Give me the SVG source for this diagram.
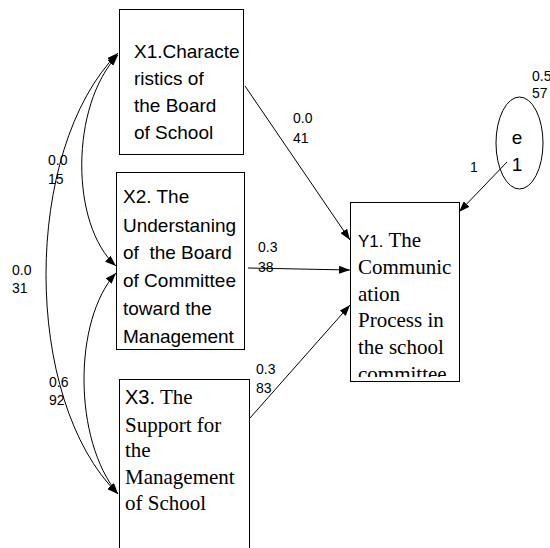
<svg xmlns="http://www.w3.org/2000/svg" width="550" height="548" viewBox="0 0 550 548">
<style>
.box{fill:#fff;stroke:#000;stroke-width:1}
.sans{font-family:"Liberation Sans",Arial,sans-serif;fill:#000}
.serif{font-family:"Liberation Serif","Times New Roman",serif;fill:#000}
.lbl{font-family:"Liberation Sans",Arial,sans-serif;font-size:14px;fill:#000}
.conn{fill:none;stroke:#000;stroke-width:1}
</style>
<defs>
<marker id="ah" markerUnits="userSpaceOnUse" markerWidth="11" markerHeight="8" refX="11" refY="4" orient="auto-start-reverse" viewBox="0 0 11 8">
<path d="M0,0 L11,4 L0,8 z" fill="#000"/>
</marker>
<clipPath id="clipY1"><rect x="350" y="202" width="109" height="175"/></clipPath>
</defs>
<rect width="550" height="548" fill="#fff"/>

<g id="X1">
<rect class="box" x="119.5" y="9.5" width="124" height="145"/>
<text class="sans" font-size="19" x="134" y="58">X1.Characte</text>
<text class="sans" font-size="19" x="134" y="85">ristics of</text>
<text class="sans" font-size="19" x="134" y="112">the Board</text>
<text class="sans" font-size="19" x="134" y="139">of School</text>
</g>

<g id="X2">
<rect class="box" x="116.5" y="172.5" width="128" height="177"/>
<text class="sans" font-size="19" x="123" y="203">X2. The</text>
<text class="sans" font-size="19" x="123" y="232">Understaning</text>
<text class="sans" font-size="19" x="123" y="259" xml:space="preserve">of  the Board</text>
<text class="sans" font-size="19" x="123" y="287">of Committee</text>
<text class="sans" font-size="19" x="123" y="315">toward the</text>
<text class="sans" font-size="19" x="123" y="343">Management</text>
</g>

<g id="X3">
<rect class="box" x="119.5" y="379.5" width="130" height="200"/>
<text x="125" y="404"><tspan class="sans" font-size="20">X3.</tspan><tspan class="serif" font-size="21"> The</tspan></text>
<text class="serif" font-size="21" x="125" y="432">Support for</text>
<text class="serif" font-size="21" x="125" y="457">the</text>
<text class="serif" font-size="21" x="125" y="484">Management</text>
<text class="serif" font-size="21" x="125" y="510">of School</text>
</g>

<g id="Y1">
<rect class="box" x="350.5" y="202.5" width="109" height="179"/>
<g clip-path="url(#clipY1)">
<text x="358" y="247"><tspan class="sans" font-size="17">Y1.</tspan><tspan class="serif" font-size="21"> The</tspan></text>
<text class="serif" font-size="21" x="358" y="274">Communic</text>
<text class="serif" font-size="21" x="358" y="301">ation</text>
<text class="serif" font-size="21" x="358" y="327">Process in</text>
<text class="serif" font-size="21" x="358" y="354">the school</text>
<text class="serif" font-size="21" x="358" y="381">committee</text>
</g>
</g>

<g id="e1">
<ellipse cx="519.5" cy="143" rx="23.5" ry="46" fill="#fff" stroke="#000" stroke-width="1"/>
<text class="sans" font-size="19" x="517" y="144" text-anchor="middle">e</text>
<text class="sans" font-size="19" x="517" y="171" text-anchor="middle">1</text>
</g>

<g id="connectors">
<path class="conn" d="M245,86 L350,240" marker-end="url(#ah)"/>
<path class="conn" d="M248,268 L350,270" marker-end="url(#ah)"/>
<path class="conn" d="M250,418 L350,305" marker-end="url(#ah)"/>
<path class="conn" d="M507,162 L459,212" marker-end="url(#ah)"/>
<path class="conn" d="M118,55 C70,105 70,225 116,266" marker-start="url(#ah)" marker-end="url(#ah)"/>
<path class="conn" d="M118,53 C22,150 22,400 118,494" marker-start="url(#ah)" marker-end="url(#ah)"/>
<path class="conn" d="M116,273 C73,320 73,440 118,494" marker-start="url(#ah)" marker-end="url(#ah)"/>
</g>

<g id="labels">
<text class="lbl" x="293" y="123">0.0</text>
<text class="lbl" x="293" y="143">41</text>
<text class="lbl" x="258" y="252">0.3</text>
<text class="lbl" x="258" y="272">38</text>
<text class="lbl" x="256" y="374">0.3</text>
<text class="lbl" x="256" y="393">83</text>
<text class="lbl" x="470" y="172">1</text>
<text class="lbl" x="532" y="81">0.5</text>
<text class="lbl" x="532" y="98">57</text>
<text class="lbl" x="48" y="165">0.0</text>
<text class="lbl" x="48" y="184">15</text>
<text class="lbl" x="12" y="275">0.0</text>
<text class="lbl" x="12" y="293">31</text>
<text class="lbl" x="49" y="387">0.6</text>
<text class="lbl" x="49" y="405">92</text>
</g>
</svg>
